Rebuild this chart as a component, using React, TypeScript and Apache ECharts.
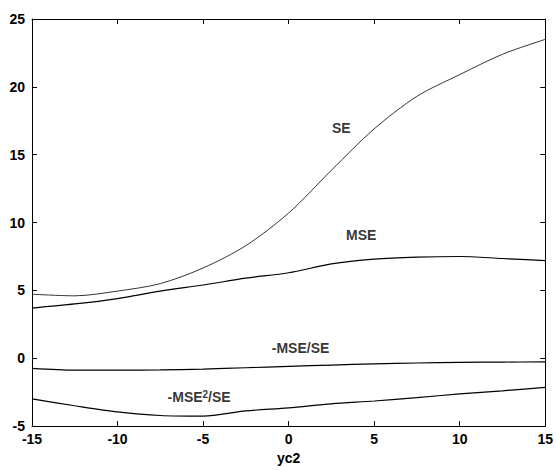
import React, { useEffect, useRef } from "react";
import * as echarts from "echarts";

const X_VALUES = [-15, -12.5, -10, -7.5, -5, -2.5, 0, 2.5, 5, 7.5, 10, 12.5, 15];
const SE = [4.72, 4.6, 4.95, 5.5, 6.65, 8.3, 10.7, 13.85, 16.9, 19.3, 20.9, 22.4, 23.5];
const MSE = [3.7, 4.0, 4.4, 4.95, 5.4, 5.9, 6.3, 6.95, 7.3, 7.45, 7.5, 7.35, 7.2];
const NEG_MSE_SE = [-0.75, -0.88, -0.88, -0.86, -0.8, -0.7, -0.6, -0.5, -0.42, -0.35, -0.3, -0.28, -0.27];
const NEG_MSE2_SE = [-3.0, -3.5, -3.95, -4.22, -4.27, -3.88, -3.66, -3.36, -3.15, -2.9, -2.63, -2.4, -2.14];

const ANNOT_TEXT = ["SE", "MSE", "-MSE/SE", "{a|-MSE}{s|2}{a|/SE}"];
const ANNOT_X = [3.08, 4.24, 0.7, -5.23];
const ANNOT_Y = [17.0, 9.05, 0.78, -2.88];

const X_NAME = "yc2";

const FONT = "'Liberation Sans', Arial, Helvetica, sans-serif";

export default function App() {
  const ref = useRef<HTMLDivElement>(null);
  useEffect(() => {
    if (!ref.current) return;
    document.body.style.margin = "0";
    const chart = echarts.init(ref.current, undefined, { renderer: "svg" });
    const pairs = (ys: number[]) => X_VALUES.map((x, i) => [x, ys[i]]);
    const lineSeries = (name: string, ys: number[], w: number) => ({
      name,
      type: "line",
      data: pairs(ys),
      showSymbol: false,
      symbol: "none",
      smooth: 0.3,
      lineStyle: { color: "#000", width: w },
      xAxisIndex: 0,
      yAxisIndex: 0,
    });
    const axisLine = { show: true, onZero: false, lineStyle: { color: "#000", width: 1 } };
    const tick = { show: true, inside: true, length: 5, lineStyle: { color: "#000" } };
    chart.setOption({
      animation: false,
      backgroundColor: "#fff",
      textStyle: { fontFamily: FONT },
      grid: { left: 32, right: 8, top: 19, bottom: 41, containLabel: false },
      xAxis: [
        {
          type: "value",
          min: -15,
          max: 15,
          interval: 5,
          position: "bottom",
          name: X_NAME,
          nameLocation: "middle",
          nameGap: 23,
          nameTextStyle: { color: "#000", fontSize: 14, fontWeight: "bold", fontFamily: FONT },
          axisLine,
          axisTick: tick,
          splitLine: { show: false },
          axisLabel: { color: "#000", fontSize: 14, fontWeight: "bold", margin: 6, fontFamily: FONT },
        },
        {
          type: "value",
          min: -15,
          max: 15,
          interval: 5,
          position: "top",
          axisLine,
          axisTick: tick,
          splitLine: { show: false },
          axisLabel: { show: false },
        },
      ],
      yAxis: [
        {
          type: "value",
          min: -5,
          max: 25,
          interval: 5,
          position: "left",
          axisLine,
          axisTick: tick,
          splitLine: { show: false },
          axisLabel: { color: "#000", fontSize: 14, fontWeight: "bold", margin: 7, fontFamily: FONT },
        },
        {
          type: "value",
          min: -5,
          max: 25,
          interval: 5,
          position: "right",
          axisLine,
          axisTick: tick,
          splitLine: { show: false },
          axisLabel: { show: false },
        },
      ],
      series: [
        lineSeries("SE", SE, 0.8),
        lineSeries("MSE", MSE, 1.2),
        lineSeries("-MSE/SE", NEG_MSE_SE, 1.2),
        lineSeries("-MSE2/SE", NEG_MSE2_SE, 1.2),
        {
          type: "scatter",
          symbolSize: 0,
          silent: true,
          data: ANNOT_TEXT.map((t, i) => [ANNOT_X[i], ANNOT_Y[i], t]),
          label: {
            show: true,
            position: "inside",
            formatter: (p: any) => p.value[2],
            color: "#000",
            fontSize: 14,
            fontWeight: "bold",
            fontFamily: FONT,
            rich: {
              a: { fontSize: 14, fontWeight: "bold", color: "#000", fontFamily: FONT },
              s: { fontSize: 10, fontWeight: "bold", color: "#000", fontFamily: FONT, verticalAlign: "top", padding: [0, 0, 6, 0] },
            },
          },
        },
      ],
    });
    return () => chart.dispose();
  }, []);
  return <div ref={ref} style={{ width: 556, height: 470 }} />;
}
